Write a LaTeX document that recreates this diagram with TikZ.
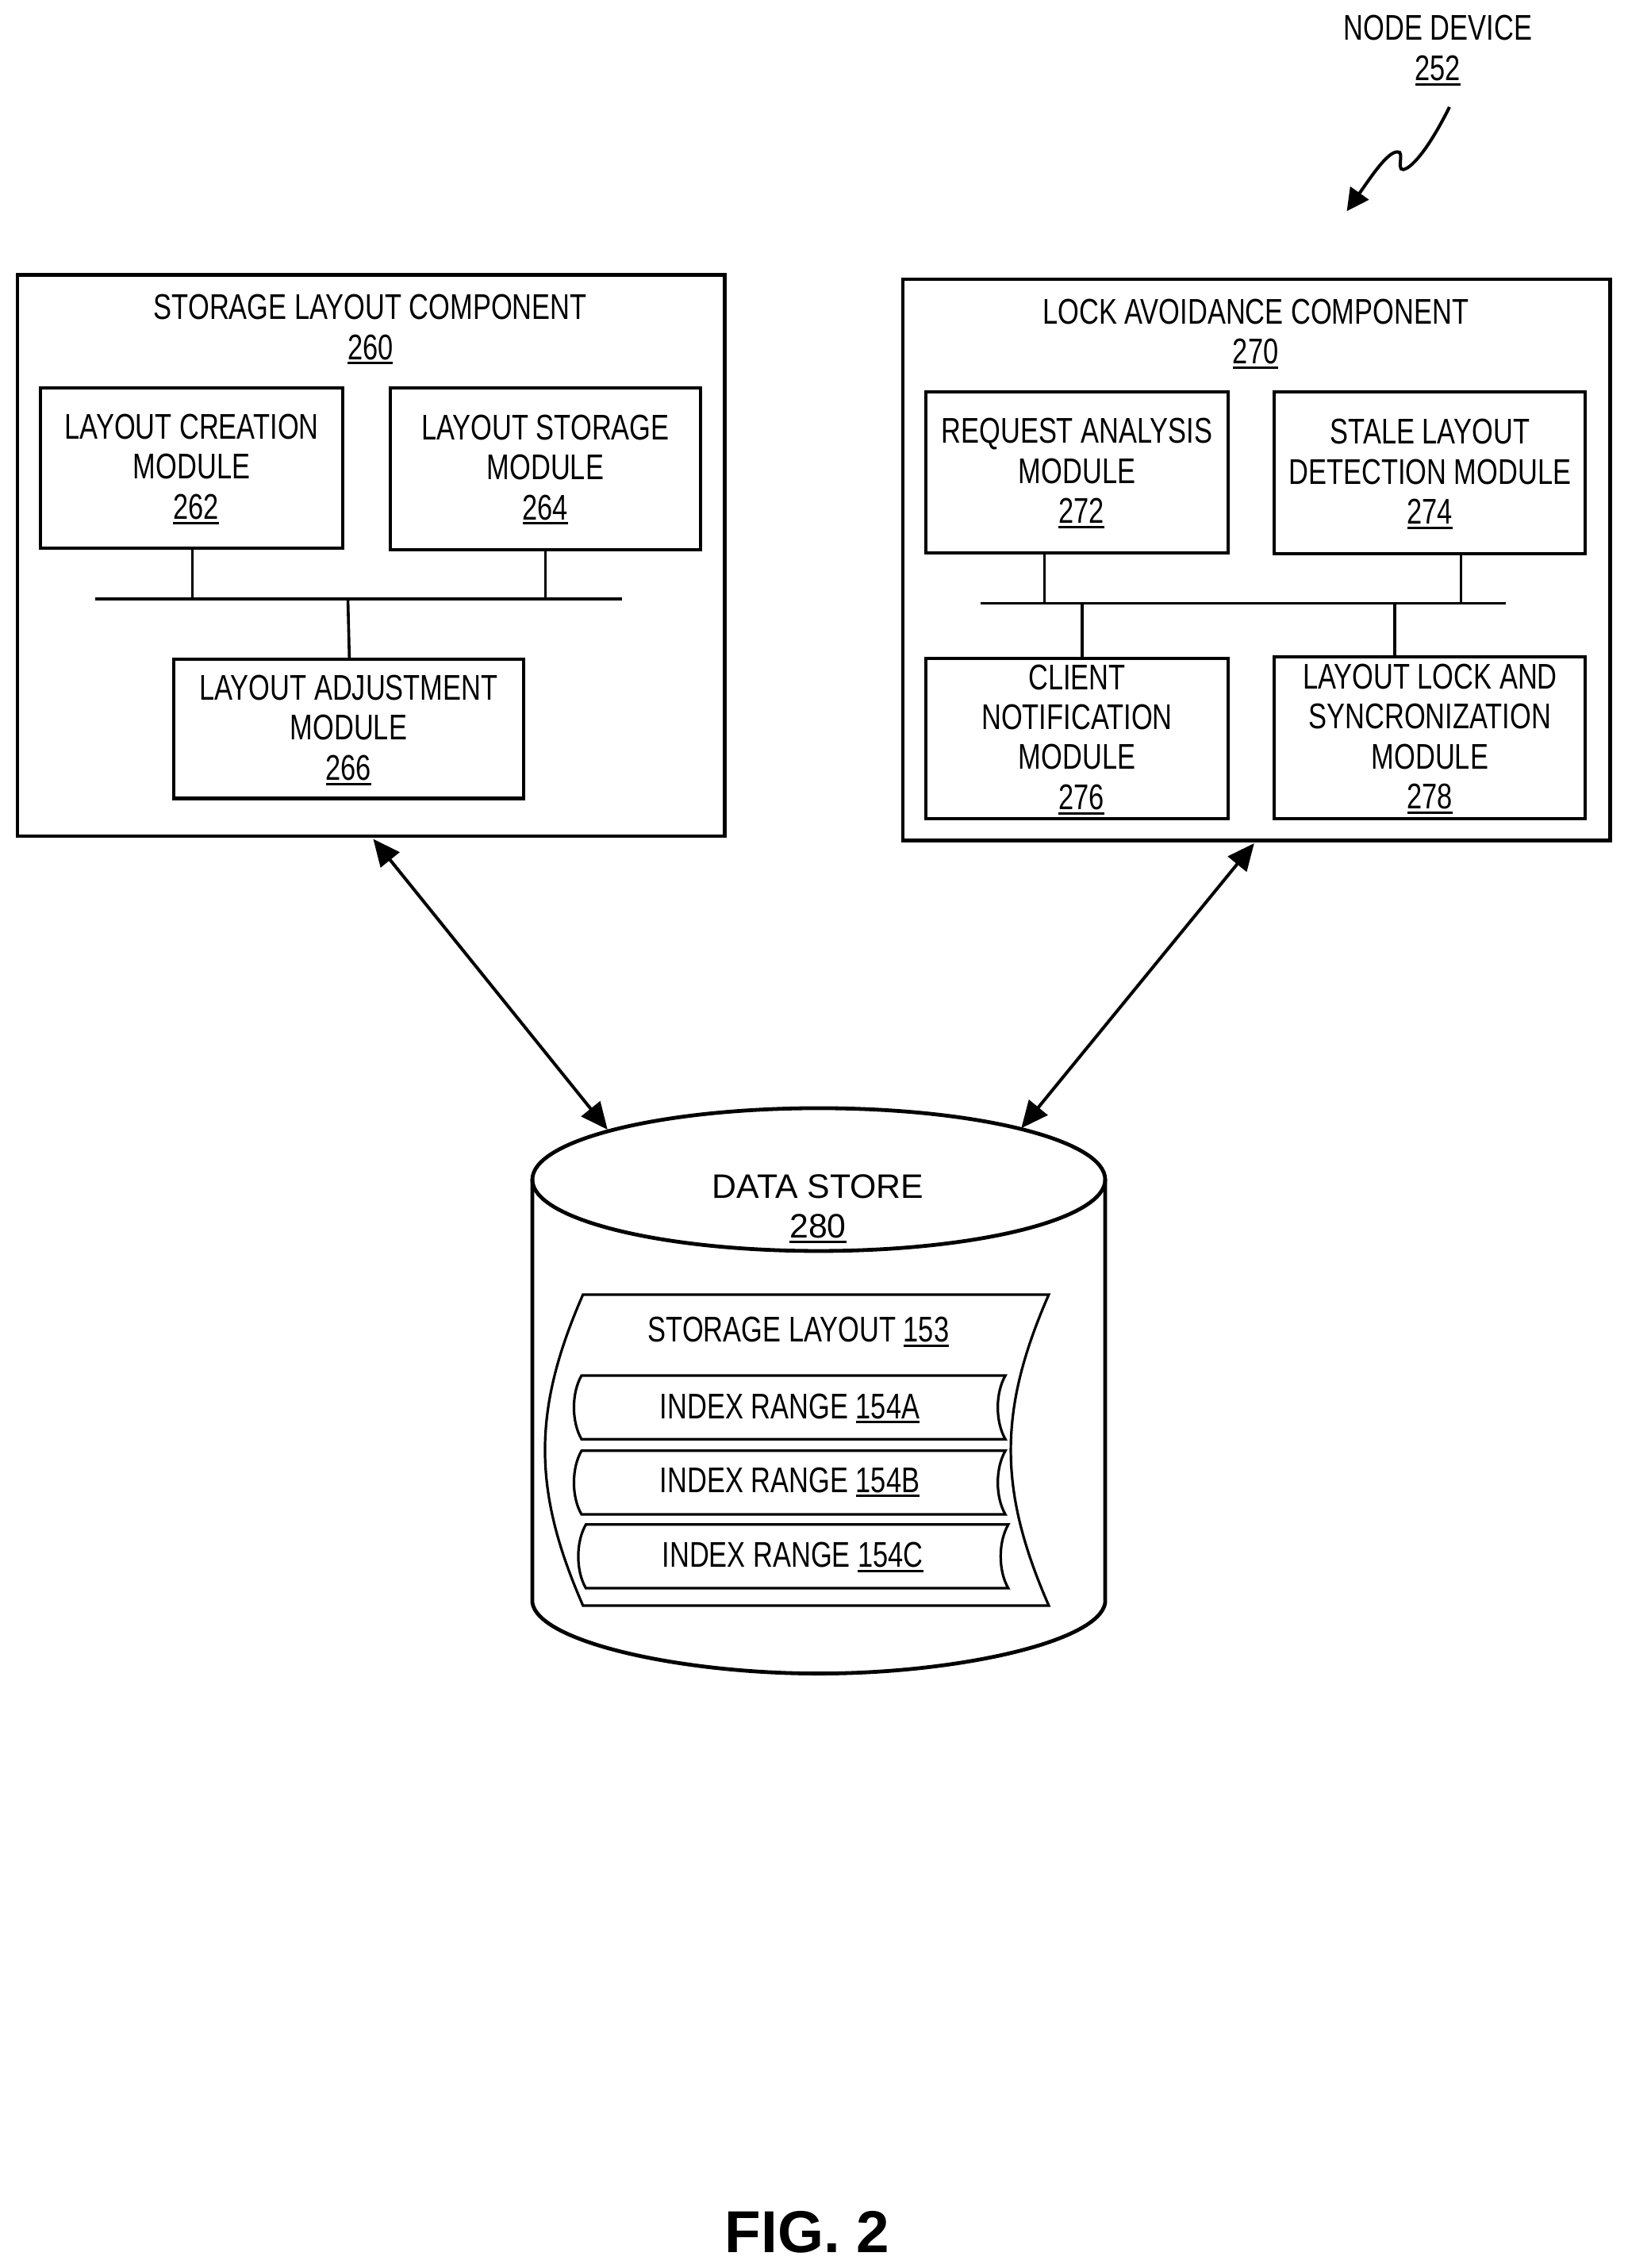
\documentclass[tikz,border=0pt]{standalone}
\usepackage{fontspec}
\setmainfont{Liberation Sans}
\newfontfamily\narrowfont[FakeStretch=0.765]{Liberation Sans}
\usetikzlibrary{arrows.meta,fit,shapes.geometric}
\newcommand{\numul}[1]{\leavevmode\setbox0\hbox{#1}\rlap{\raisebox{-3.2pt}{\rule{\wd0}{1.5pt}}}\box0}
\tikzset{
  x=0.9116pt,y=-0.9116pt,
  lbl/.style={font=\narrowfont\fontsize{22.5}{25.2}\selectfont,align=center,inner sep=0pt,yshift=-0.7pt},
  outerbox/.style={draw,line width=2.2pt,inner sep=0pt,fill=white},
  modbox/.style={draw,line width=2pt,inner sep=0pt},
  wire/.style={line width=1.8pt},
  biarrow/.style={line width=2pt,{Triangle[length=17pt,width=15pt]}-{Triangle[length=17pt,width=15pt]}},
  cylline/.style={line width=2.4pt},
  thinshape/.style={line width=1.6pt}
}
\begin{document}
\begin{tikzpicture}
\useasboundingbox (0,0) rectangle (1125,1568);
% left component
\node[outerbox,fit={(12,190)(501,578)}] (c260) {};
\node[lbl] (t260) at (256,227) {STORAGE LAYOUT COMPONENT\\\numul{260}};
\node[modbox,fit={(28,268)(237,379)}] (m262) {};
\node[lbl] (t262) at (m262.center) {LAYOUT CREATION\\MODULE\\\hspace*{5.5pt}\numul{262}};
\node[modbox,fit={(270,268)(484,380)}] (m264) {};
\node[lbl] (t264) at (m264.center) {LAYOUT STORAGE\\MODULE\\\numul{264}};
\node[modbox,fit={(120,456)(362,552)}] (m266) {};
\node[lbl] (t266) at (m266.center) {LAYOUT ADJUSTMENT\\MODULE\\\numul{266}};
\coordinate (lbusL) at (66,414);
\coordinate (lbusR) at (430,414);
\coordinate (j262) at (133,414);
\coordinate (j264) at (377,414);
\coordinate (j266) at (240.5,414);
\coordinate (j266b) at (241.5,414);
\draw[wire] (lbusL) -- (lbusR);
\draw[wire] (m262.south -| j262) -- (j262);
\draw[wire] (m264.south -| j264) -- (j264);
\draw[wire] (m266.north -| j266b) -- (j266);
% right component
\node[outerbox,fit={(624,193)(1113,581)}] (c270) {};
\node[lbl] (t270) at (868,230) {LOCK AVOIDANCE COMPONENT\\\numul{270}};
\node[modbox,fit={(640,271)(849,382)}] (m272) {};
\node[lbl] (t272) at (m272.center) {REQUEST ANALYSIS\\MODULE\\\hspace*{5.5pt}\numul{272}};
\node[modbox,fit={(881,271)(1096,383)}] (m274) {};
\node[lbl] (t274) at (m274.center) {STALE LAYOUT\\DETECTION MODULE\\\numul{274}};
\node[modbox,fit={(640,455)(849,566)}] (m276) {};
\node[lbl] (t276) at (m276.center) {CLIENT\\NOTIFICATION\\MODULE\\\hspace*{5.5pt}\numul{276}};
\node[modbox,fit={(881,454)(1096,566)}] (m278) {};
\node[lbl] (t278) at (m278.center) {LAYOUT LOCK AND\\SYNCRONIZATION\\MODULE\\\numul{278}};
\coordinate (rbusL) at (678,417);
\coordinate (rbusR) at (1041,417);
\coordinate (j272) at (722,417);
\coordinate (j274) at (1010,417);
\coordinate (j276) at (748,417);
\coordinate (j278) at (964,417);
\draw[wire] (rbusL) -- (rbusR);
\draw[wire] (m272.south -| j272) -- (j272);
\draw[wire] (m274.south -| j274) -- (j274);
\draw[wire] (m276.north -| j276) -- (j276);
\draw[wire] (m278.north -| j278) -- (j278);
% node device
\node[lbl] (t252) at (994,34) {NODE DEVICE\\\numul{252}};
\coordinate (zs) at (1002,74);
\coordinate (ze) at (931,146);
\draw[line width=2pt,-{Triangle[length=14pt,width=14pt]}] (zs) .. controls (993,92) and (982,110) .. (973,116) .. controls (963,122) and (972,104) .. (966,105) .. controls (959,105) and (948,122) .. (ze);
% data store
\coordinate (cl) at (368,815);
\coordinate (cr) at (764,815);
\coordinate (bl) at (368,1108);
\coordinate (br) at (764,1108);
\draw[cylline] (cl) -- (bl) .. controls (372,1135) and (470,1157) .. (566,1157) .. controls (662,1157) and (760,1135) .. (br) -- (cr);
\node[draw,ellipse,cylline,inner sep=0pt,minimum width=361pt,minimum height=90pt] (top) at (566,815.5) {};
\node[inner sep=0pt,align=center,font=\fontsize{21.4}{25.2}\selectfont,yshift=-0.7pt] (t280) at (565.5,835) {DATA STORE\\\numul{280}};
\coordinate (al) at (258,580);
\coordinate (ar) at (867,583);
\coordinate (tl) at (420,781);
\coordinate (tr) at (706,780);
\draw[biarrow] (al) -- (tl);
\draw[biarrow] (ar) -- (tr);
% storage layout
\draw[thinshape] (403,895) -- (725,895) .. controls (690,975) and (690,1030) .. (725,1110) -- (403,1110) .. controls (368,1030) and (368,975) .. cycle;
\node[lbl] (t153) at (552,920) {STORAGE LAYOUT \numul{153}};
\draw[thinshape] (402,951) -- (695,951) .. controls (688,963) and (688,983) .. (695,995) -- (402,995) .. controls (395,983) and (395,963) .. cycle;
\node[lbl] (t154a) at (546,973) {INDEX RANGE \numul{154A}};
\draw[thinshape] (402,1003) -- (695,1003) .. controls (688,1015) and (688,1035) .. (695,1047) -- (402,1047) .. controls (395,1035) and (395,1015) .. cycle;
\node[lbl] (t154b) at (546,1024) {INDEX RANGE \numul{154B}};
\draw[thinshape] (405,1054) -- (697,1054) .. controls (690,1066) and (690,1086) .. (697,1098) -- (405,1098) .. controls (398,1086) and (398,1066) .. cycle;
\node[lbl] (t154c) at (548,1076) {INDEX RANGE \numul{154C}};
% caption
\node[inner sep=0pt,font=\bfseries\fontsize{37.3}{40}\selectfont] (fig) at (558,1543) {FIG. 2};
\end{tikzpicture}
\end{document}
